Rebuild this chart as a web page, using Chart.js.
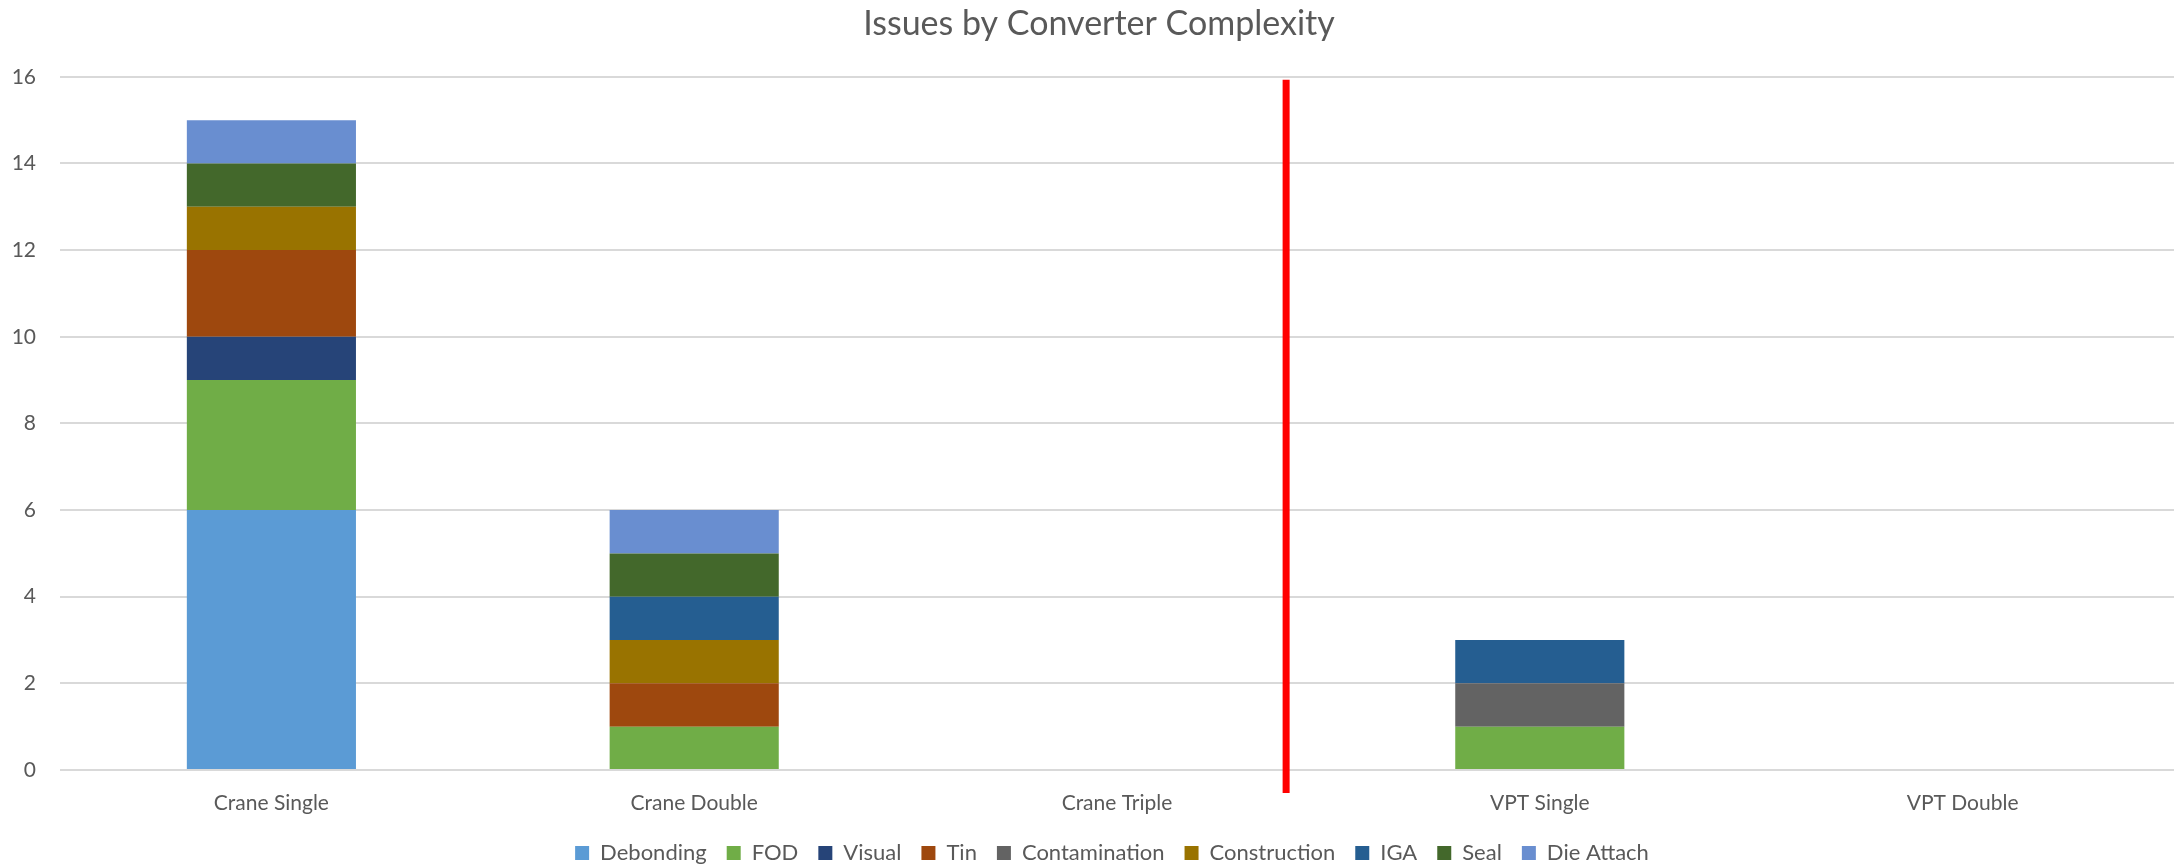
<!DOCTYPE html>
<html>
<head>
<meta charset="utf-8">
<script src="https://cdn.jsdelivr.net/npm/chart.js@4.4.1/dist/chart.umd.min.js"></script>
<style>
  html, body { margin: 0; padding: 0; background: #ffffff; }
  #c { display: block; }
</style>
</head>
<body>
<canvas id="c" width="2176" height="868" style="width:2176px;height:868px"></canvas>
<script>
// ---- data ----
const categories = ['Crane Single', 'Crane Double', 'Crane Triple', 'VPT Single', 'VPT Double'];
const debonding     = [6, 0, 0, 0, 0];
const fod           = [3, 1, 0, 1, 0];
const visual        = [1, 0, 0, 0, 0];
const tin           = [2, 1, 0, 0, 0];
const contamination = [0, 0, 0, 1, 0];
const construction  = [1, 1, 0, 0, 0];
const iga           = [0, 1, 0, 1, 0];
const seal          = [1, 1, 0, 0, 0];
const dieAttach     = [1, 1, 0, 0, 0];
const seriesNames  = ['Debonding', 'FOD', 'Visual', 'Tin', 'Contamination', 'Construction', 'IGA', 'Seal', 'Die Attach'];
const seriesValues = [debonding, fod, visual, tin, contamination, construction, iga, seal, dieAttach];
const seriesColors = ['#5B9BD5', '#70AD47', '#264478', '#9E480E', '#636363', '#997300', '#255E91', '#43682B', '#698ED0'];
const yTicks = [0, 2, 4, 6, 8, 10, 12, 14, 16];
const chartTitle = 'Issues by Converter Complexity';
// red divider: position in category-index units, and its vertical extent in value units
const dividerPosition = 2.4;
const dividerSpan = [15.93, -0.53];

const textColor = '#595959';
const fontFamily = 'Lato, "Open Sans", sans-serif';

const dividerPlugin = {
  id: 'divider',
  afterDatasetsDraw(chart) {
    const { ctx, scales: { x, y } } = chart;
    const i = Math.floor(dividerPosition);
    const a = x.getPixelForValue(i);
    const b = x.getPixelForValue(i + 1);
    const px = a + (b - a) * (dividerPosition - i);
    ctx.save();
    ctx.strokeStyle = '#FF0000';
    ctx.lineWidth = 7;
    ctx.lineCap = 'butt';
    ctx.beginPath();
    ctx.moveTo(px, y.getPixelForValue(dividerSpan[0]));
    ctx.lineTo(px, y.getPixelForValue(dividerSpan[1]));
    ctx.stroke();
    ctx.restore();
  }
};

// centre title and legend slightly right of the canvas centre, as in the original
const offsetPlugin = {
  id: 'offsets',
  afterLayout(chart) {
    if (chart.legend) chart.legend.left += 50;
    if (chart.titleBlock) chart.titleBlock.left += 24;
  }
};

function build() {
  new Chart(document.getElementById('c'), {
    type: 'bar',
    data: {
      labels: categories,
      datasets: seriesNames.map((n, k) => ({
        label: n,
        data: seriesValues[k],
        backgroundColor: seriesColors[k],
        borderWidth: 0,
        categoryPercentage: 1,
        barPercentage: 0.4
      }))
    },
    plugins: [dividerPlugin, offsetPlugin],
    options: {
      responsive: false,
      animation: false,
      layout: { padding: { left: 0, right: 2, top: 0, bottom: -6 } },
      plugins: {
        title: {
          display: true,
          text: chartTitle,
          color: textColor,
          font: { family: fontFamily, size: 34, weight: 'normal' },
          padding: { top: 4, bottom: 32 }
        },
        legend: {
          position: 'bottom',
          labels: {
            boxWidth: 14,
            boxHeight: 14,
            padding: 20,
            color: textColor,
            font: { family: fontFamily, size: 22 }
          }
        },
        tooltip: { enabled: false }
      },
      scales: {
        x: {
          stacked: true,
          grid: { display: false, drawTicks: false },
          border: { display: false },
          afterFit: s => { s.height = 52; },
          ticks: { color: textColor, font: { family: fontFamily, size: 21 }, padding: 21, maxRotation: 0 }
        },
        y: {
          stacked: true,
          min: 0,
          max: 16,
          afterBuildTicks: s => { s.ticks = yTicks.map(v => ({ value: v })); },
          afterFit: s => { s.width = 60; },
          grid: { color: '#d9d9d9', lineWidth: 2, drawTicks: false },
          border: { display: false },
          ticks: { color: textColor, font: { family: fontFamily, size: 21 }, padding: 24 }
        }
      }
    }
  });
}

if (document.fonts && document.fonts.load) {
  Promise.all([document.fonts.load('21px Lato'), document.fonts.load('34px Lato')]).then(build, build);
} else {
  build();
}
</script>
</body>
</html>
